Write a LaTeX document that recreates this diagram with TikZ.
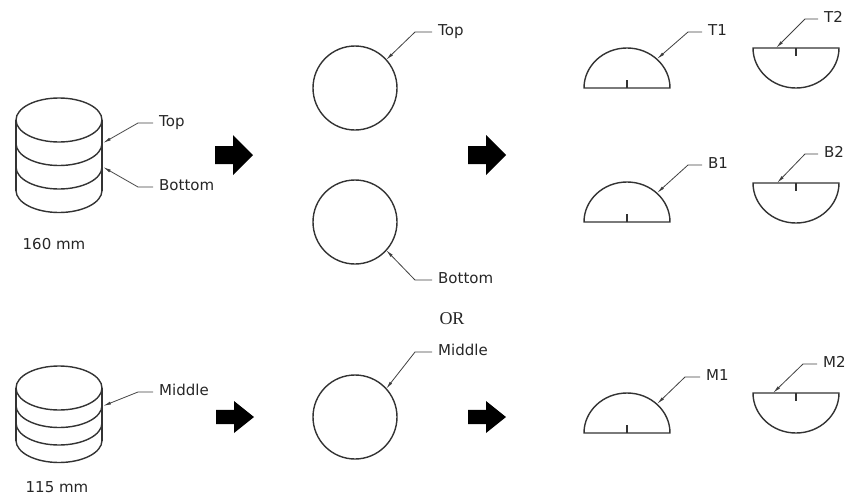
\documentclass[tikz,border=0pt]{standalone}
\usepackage{fontspec}
\setmainfont{DejaVu Sans}
\newfontfamily\orfont{Liberation Serif}
\usetikzlibrary{arrows.meta}

\begin{document}
\begin{tikzpicture}[x=1pt,y=-1pt,
  every node/.style={font=\fontsize{15}{18}\selectfont, text=black!85},
  part/.style={line width=1.4pt, draw=black!80},
  leader/.style={line width=0.8pt, draw=black!75, -{Latex[length=8pt,width=3pt]}},
  lbl/.style={anchor=west, inner xsep=6pt, inner ysep=0pt, text height=0.73em, text depth=0pt}]
\useasboundingbox (0,0) rectangle (847,498);

% 160 mm stack
\draw[part] (59,120) ellipse[x radius=43pt, y radius=22pt];
\foreach \c in {143.5,167,190.5}
  \draw[part] (16,\c) arc[start angle=180, end angle=360, x radius=43pt, y radius=22pt];
\draw[part] (16,120) -- (16,190.5) (102,120) -- (102,190.5);
\node (len1) at (54,244) {160 mm};

% 115 mm stack
\draw[part] (59,388) ellipse[x radius=43pt, y radius=22pt];
\foreach \c in {405.5,423,440.5}
  \draw[part] (16,\c) arc[start angle=180, end angle=360, x radius=43pt, y radius=22pt];
\draw[part] (16,388) -- (16,440.5) (102,388) -- (102,440.5);
\node (len2) at (57,487) {115 mm};

% labels on the stacks
\node[lbl] (sTop) at (153,123) {Top};
\node[lbl] (sBottom) at (153,187) {Bottom};
\node[lbl] (sMiddle) at (153,392) {Middle};
\coordinate (sTopTip) at (103,143);
\coordinate (sBottomTip) at (103,167);
\coordinate (sMiddleTip) at (103,406);
\draw[leader] (sTop.west) -- ++(-15,0) -- (sTopTip);
\draw[leader] (sBottom.west) -- ++(-15,0) -- (sBottomTip);
\draw[leader] (sMiddle.west) -- ++(-15,0) -- (sMiddleTip);

% block arrows
\foreach \x/\y/\s in {215/155/1, 468/155/1, 216/417/0.8, 468/417/0.8}
  \fill[black] (\x,\y-9*\s) -- (\x+18,\y-9*\s) -- (\x+18,\y-20*\s) -- (\x+38,\y)
    -- (\x+18,\y+20*\s) -- (\x+18,\y+9*\s) -- (\x,\y+9*\s) -- cycle;

% discs
\draw[part] (355,88) circle[radius=42pt];
\draw[part] (355,222) circle[radius=42pt];
\draw[part] (355,417) circle[radius=42pt];
\node[lbl] (dTop) at (432,32) {Top};
\node[lbl] (dBottom) at (432,280) {Bottom};
\node[lbl] (dMiddle) at (432,352) {Middle};
\coordinate (dTopTip) at (386,60);
\coordinate (dBottomTip) at (386,250);
\coordinate (dMiddleTip) at (386,389);
\draw[leader] (dTop.west) -- ++(-17,0) -- (dTopTip);
\draw[leader] (dBottom.west) -- ++(-17,0) -- (dBottomTip);
\draw[leader] (dMiddle.west) -- ++(-17,0) -- (dMiddleTip);

\node[font=\orfont\fontsize{18}{20}\selectfont] (or) at (452,319) {OR};

% halves
\foreach \yb/\yt in {88/48, 222/183, 433/393} {
  \draw[part] (584,\yb) -- (670,\yb) arc[start angle=0, end angle=180, x radius=43pt, y radius=40pt] -- cycle;
  \draw[part] (627,\yb) -- (627,\yb-8);
  \draw[part] (753,\yt) -- (839,\yt) arc[start angle=0, end angle=-180, x radius=43pt, y radius=40pt] -- cycle;
  \draw[part] (796,\yt) -- (796,\yt+8);
}
\node[lbl] (hT1) at (702,32) {T1};
\node[lbl] (hT2) at (818,19) {T2};
\node[lbl] (hB1) at (702,165) {B1};
\node[lbl] (hB2) at (818,154) {B2};
\node[lbl] (hM1) at (700,377) {M1};
\node[lbl] (hM2) at (817,364) {M2};
\coordinate (hT1Tip) at (657,59);
\coordinate (hT2Tip) at (776,48);
\coordinate (hB1Tip) at (657,193);
\coordinate (hB2Tip) at (777,183);
\coordinate (hM1Tip) at (657,404);
\coordinate (hM2Tip) at (773,393);
\draw[leader] (hT1.west) -- ++(-14,0) -- (hT1Tip);
\draw[leader] (hT2.west) -- ++(-13,0) -- (hT2Tip);
\draw[leader] (hB1.west) -- ++(-14,0) -- (hB1Tip);
\draw[leader] (hB2.west) -- ++(-13,0) -- (hB2Tip);
\draw[leader] (hM1.west) -- ++(-15,0) -- (hM1Tip);
\draw[leader] (hM2.west) -- ++(-14,0) -- (hM2Tip);
\end{tikzpicture}
\end{document}
